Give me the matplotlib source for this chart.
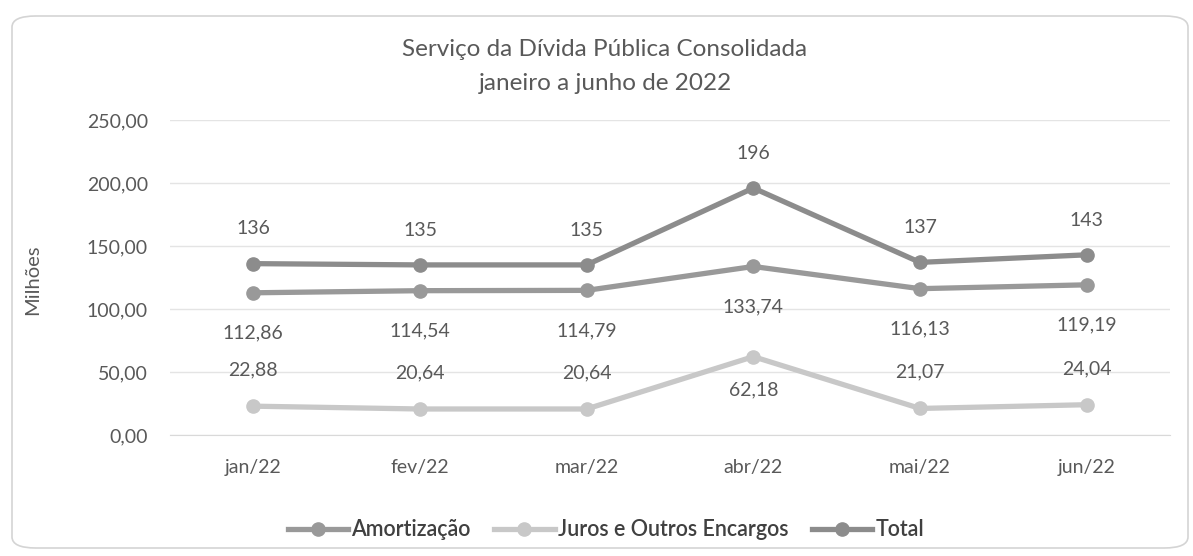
import matplotlib.pyplot as plt
from matplotlib.patches import FancyBboxPatch
from matplotlib.lines import Line2D

months = ["jan/22", "fev/22", "mar/22", "abr/22", "mai/22", "jun/22"]
amortizacao = [112.86, 114.54, 114.79, 133.74, 116.13, 119.19]
juros = [22.88, 20.64, 20.64, 62.18, 21.07, 24.04]
total = [136, 135, 135, 196, 137, 143]
yticks = [0, 50, 100, 150, 200, 250]

plt.rcParams['font.family'] = ['Lato', 'DejaVu Sans']

fig = plt.figure(figsize=(11.93, 5.56), dpi=100)
fig.patch.set_facecolor('white')

# rounded outer frame, kept behind the axes
frame = FancyBboxPatch((12 / 1193, 8 / 556), 1176 / 1193, 532 / 556,
                       boxstyle="round,pad=0,rounding_size=0.02",
                       transform=fig.transFigure, facecolor='white',
                       edgecolor='#d4d4d4', linewidth=1.2, zorder=-10)
fig.add_artist(frame)

ax = fig.add_axes([170 / 1193, 1 - 435 / 556, 1000 / 1193, 315 / 556])
ax.set_facecolor('none')

x = list(range(len(months)))
c_amort = '#999999'
c_juros = '#c8c8c8'
c_total = '#8c8c8c'
lw = 3.8
ms = 9.5

ax.plot(x, amortizacao, color=c_amort, lw=lw, marker='o', ms=ms, zorder=3)
ax.plot(x, juros, color=c_juros, lw=lw, marker='o', ms=ms, zorder=3)
ax.plot(x, total, color=c_total, lw=lw, marker='o', ms=ms, zorder=4)

lab_kw = dict(ha='center', va='center', fontsize=14, color='#595959')
for i in x:
    ax.annotate(f"{total[i]:d}", (i, total[i]), xytext=(0, 25), textcoords='offset points', **lab_kw)
    ax.annotate(f"{amortizacao[i]:.2f}".replace('.', ','), (i, amortizacao[i]),
                xytext=(0, -29), textcoords='offset points', **lab_kw)
    off = -24 if i == 3 else 26
    ax.annotate(f"{juros[i]:.2f}".replace('.', ','), (i, juros[i]),
                xytext=(0, off), textcoords='offset points', **lab_kw)

ax.set_xlim(-0.5, len(months) - 0.5)
ax.set_ylim(0, 250)
ax.set_yticks(yticks)
ax.set_yticklabels([f"{v:.2f}".replace('.', ',') for v in yticks])
ax.set_xticks(x)
ax.set_xticklabels(months)
ax.tick_params(axis='y', length=0, pad=16, labelsize=14, labelcolor='#595959')
ax.tick_params(axis='x', length=0, pad=17, labelsize=14, labelcolor='#595959')
ax.grid(axis='y', color='#e4e4e4', lw=1)
ax.set_axisbelow(True)
for s in ['top', 'right', 'left']:
    ax.spines[s].set_visible(False)
ax.spines['bottom'].set_color('#d9d9d9')

fig.text(33 / 1193, 1 - 280 / 556, "Milhões", rotation=90, ha='center', va='center',
         fontsize=14.5, color='#595959')

fig.text(605 / 1193, 1 - 50 / 556, "Serviço da Dívida Pública Consolidada",
         ha='center', va='center', fontsize=17.5, color='#595959')
fig.text(605 / 1193, 1 - 83 / 556, "janeiro a junho de 2022",
         ha='center', va='center', fontsize=17.5, color='#595959')

handles = [Line2D([], [], color=c_amort, lw=lw, marker='o', ms=ms),
           Line2D([], [], color=c_juros, lw=lw, marker='o', ms=ms),
           Line2D([], [], color=c_total, lw=lw, marker='o', ms=ms)]
leg = fig.legend(handles, ["Amortização", "Juros e Outros Encargos", "Total"],
                 loc='center', bbox_to_anchor=(606 / 1193, 1 - 530 / 556), ncol=3,
                 frameon=False, fontsize=15.5, handlelength=2.8, columnspacing=1.1,
                 handletextpad=0.15)
for t in leg.get_texts():
    t.set_color('#404040')
    t.set_fontweight('semibold')

fig.savefig('out.png', dpi=100, facecolor='white')
